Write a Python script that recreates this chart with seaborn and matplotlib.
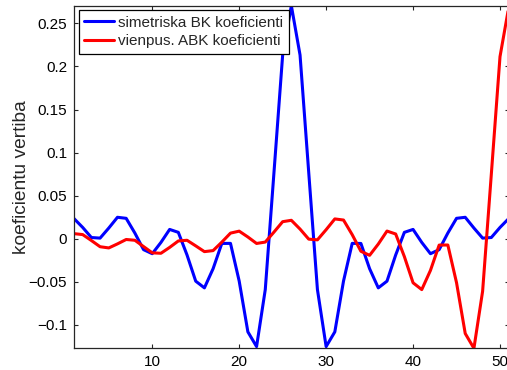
import numpy as np
import pandas as pd
import matplotlib
matplotlib.use("Agg")
import matplotlib.pyplot as plt
import seaborn as sns

# ---- data ----
index = list(range(1, 52))
sym_bk = [0.0233, 0.0130, 0.0013, 0.0006, 0.0123, 0.0248, 0.0236, 0.0065, -0.0128, -0.0175,
          -0.0044, 0.0107, 0.0073, -0.0190, -0.0494, -0.0572, -0.0349, -0.0056, -0.0055, -0.0493,
          -0.1083, -0.1254, -0.0592, 0.0767, 0.2133, 0.2706, 0.2133, 0.0767, -0.0592, -0.1254,
          -0.1083, -0.0493, -0.0055, -0.0056, -0.0349, -0.0572, -0.0494, -0.0190, 0.0073, 0.0107,
          -0.0044, -0.0175, -0.0128, 0.0065, 0.0236, 0.0248, 0.0123, 0.0006, 0.0013, 0.0130, 0.0233]
one_abk = [0.0058, 0.0047, -0.0022, -0.0094, -0.0108, -0.0061, -0.0010, -0.0019, -0.0092, -0.0165,
           -0.0170, -0.0102, -0.0027, -0.0019, -0.0084, -0.0151, -0.0139, -0.0041, 0.0064, 0.0087,
           0.0019, -0.0056, -0.0040, 0.0076, 0.0197, 0.0213, 0.0111, -0.0006, -0.0014, 0.0104,
           0.0229, 0.0216, 0.0046, -0.0147, -0.0194, -0.0063, 0.0088, 0.0054, -0.0209, -0.0513,
           -0.0592, -0.0369, -0.0075, -0.0074, -0.0512, -0.1102, -0.1274, -0.0611, 0.0747, 0.2114, 0.2686]
series_names = ["simetriska BK koeficienti", "vienpus. ABK koeficienti"]
series_colors = ["#0000ff", "#ff0000"]
xtick_values = [10, 20, 30, 40, 50]
xtick_labels = ["10", "20", "30", "40", "50"]
ytick_values = [-0.1, -0.05, 0, 0.05, 0.1, 0.15, 0.2, 0.25]
ytick_labels = ["\u22120.1", "\u22120.05", "0", "0.05", "0.1", "0.15", "0.2", "0.25"]
ylabel_text = "koeficientu vertiba"

df = pd.DataFrame({
    "idx": index * 2,
    "val": sym_bk + one_abk,
    "series": [series_names[0]] * len(sym_bk) + [series_names[1]] * len(one_abk),
})

sns.set_style("ticks")
plt.rcParams["font.family"] = ["Liberation Sans", "DejaVu Sans"]

fig = plt.figure(figsize=(5.07, 3.70), dpi=100)
ax = fig.add_axes([74 / 507, (370 - 348.3) / 370, (508.7 - 74) / 507, (348.3 - 5.7) / 370])

sns.lineplot(data=df, x="idx", y="val", hue="series", hue_order=series_names,
             palette=series_colors, linewidth=2.2, ax=ax, legend=True)

ax.set_xlim(min(index), max(index))
ax.set_ylim(min(min(sym_bk), min(one_abk)), max(max(sym_bk), max(one_abk)))
ax.set_xticks(xtick_values)
ax.set_xticklabels(xtick_labels)
ax.set_yticks(ytick_values)
ax.set_yticklabels(ytick_labels)
ax.set_xlabel("")
ax.set_ylabel(ylabel_text, fontsize=13.8, labelpad=-1)

for s in ax.spines.values():
    s.set_visible(True)
    s.set_color("#262626")
    s.set_linewidth(0.9)
ax.tick_params(direction="in", length=3, width=0.8, top=True, right=True,
               labelsize=11, colors="#262626", labelcolor="black", pad=5)

leg = ax.legend(loc="upper left", fontsize=11, frameon=True, fancybox=False,
                edgecolor="black", framealpha=1, borderaxespad=0.3, borderpad=0.35,
                handlelength=2.0, handletextpad=0.25, labelspacing=0.3)
leg.get_frame().set_linewidth(0.9)
for line in leg.get_lines():
    line.set_linewidth(2.2)

fig.savefig("out.png", dpi=100)
